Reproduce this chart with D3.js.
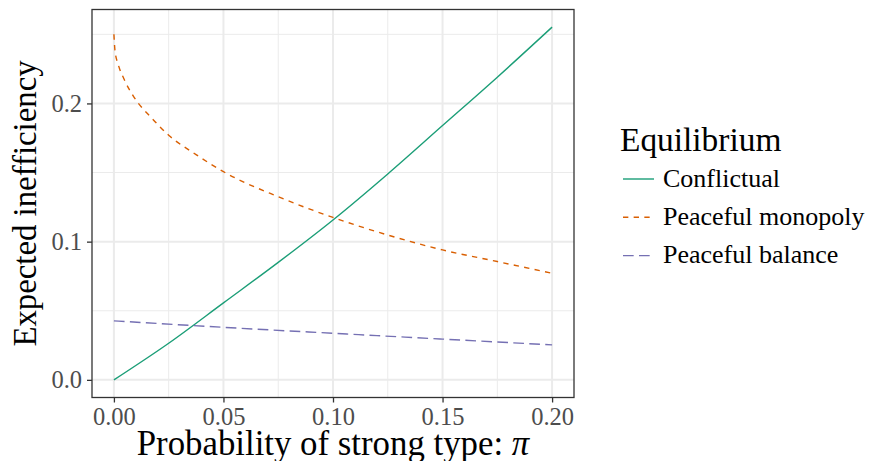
<!DOCTYPE html>
<html>
<head>
<meta charset="utf-8">
<script src="https://cdn.jsdelivr.net/npm/d3@7"></script>
<style>
  body { margin: 0; background: #fff; }
  svg text { font-family: "Liberation Serif", "DejaVu Serif", serif; }
</style>
</head>
<body>
<div id="vis-container"></div>
<script>
// width and height
var w = 871;
var h = 461;

// data
var seriesNames = ["Conflictual", "Peaceful monopoly", "Peaceful balance"];
var seriesColors = ["#1B9E77", "#D95F02", "#7570B3"];
var seriesDash = [null, "5.33,5.33", "10.67,5.33"];

var conflictualPi  = [0, 0.025, 0.05, 0.075, 0.1, 0.125, 0.15, 0.175, 0.2];
var conflictualVal = [0, 0.0265, 0.0557, 0.085, 0.1157, 0.149, 0.184, 0.219, 0.2552];

var monopolyPi  = [0, 0.0005, 0.002, 0.0045, 0.009, 0.0175, 0.025, 0.0375, 0.05, 0.075, 0.1, 0.125, 0.15, 0.175, 0.2];
var monopolyVal = [0.25, 0.238, 0.228, 0.218, 0.205, 0.189, 0.177, 0.163, 0.1506, 0.1325, 0.1175, 0.1048, 0.094, 0.0856, 0.0771];

var balancePi  = [0, 0.05, 0.1, 0.15, 0.2];
var balanceVal = [0.0427, 0.0380, 0.0337, 0.0295, 0.0253];

var xTicks = [0, 0.05, 0.1, 0.15, 0.2];
var xMinor = [0.025, 0.075, 0.125, 0.175];
var yTicks = [0, 0.1, 0.2];
var yMinor = [0.05, 0.15, 0.25];

var seriesPi = [conflictualPi, monopolyPi, balancePi];
var seriesVal = [conflictualVal, monopolyVal, balanceVal];

var series = seriesNames.map(function (name, i) {
    return {
        name: name,
        color: seriesColors[i],
        dash: seriesDash[i],
        points: seriesPi[i].map(function (p, j) { return [p, seriesVal[i][j]]; })
    };
});

// panel box
var panel = { left: 92, top: 9.5, right: 574, bottom: 397.5 };

// ggplot-like 5% expansion
var xExt = [0, 0.2];
var yExt = [0, d3.max(seriesVal, function (v) { return d3.max(v); })];
var xPad = (xExt[1] - xExt[0]) * 0.05;
var yPad = (yExt[1] - yExt[0]) * 0.05;

var xScale = d3.scaleLinear()
    .domain([xExt[0] - xPad, xExt[1] + xPad])
    .range([panel.left, panel.right]);

var yScale = d3.scaleLinear()
    .domain([yExt[0] - yPad, yExt[1] + yPad])
    .range([panel.bottom, panel.top]);

var svg = d3.select("#vis-container")
    .append("svg")
    .attr("width", w)
    .attr("height", h);

// grid
var grid = svg.append("g");
grid.selectAll(".xminor").data(xMinor).enter().append("line")
    .attr("x1", xScale).attr("x2", xScale)
    .attr("y1", panel.top).attr("y2", panel.bottom)
    .attr("stroke", "#EBEBEB").attr("stroke-width", 1);
grid.selectAll(".yminor").data(yMinor).enter().append("line")
    .attr("y1", yScale).attr("y2", yScale)
    .attr("x1", panel.left).attr("x2", panel.right)
    .attr("stroke", "#EBEBEB").attr("stroke-width", 1);
grid.selectAll(".xmajor").data(xTicks).enter().append("line")
    .attr("x1", xScale).attr("x2", xScale)
    .attr("y1", panel.top).attr("y2", panel.bottom)
    .attr("stroke", "#EBEBEB").attr("stroke-width", 2);
grid.selectAll(".ymajor").data(yTicks).enter().append("line")
    .attr("y1", yScale).attr("y2", yScale)
    .attr("x1", panel.left).attr("x2", panel.right)
    .attr("stroke", "#EBEBEB").attr("stroke-width", 2);

// lines
var line = d3.line()
    .x(function (d) { return xScale(d[0]); })
    .y(function (d) { return yScale(d[1]); })
    .curve(d3.curveMonotoneX);

svg.selectAll(".series")
    .data(series)
    .enter()
    .append("path")
    .attr("class", "series")
    .attr("d", function (d) { return line(d.points); })
    .attr("fill", "none")
    .attr("stroke", function (d) { return d.color; })
    .attr("stroke-width", 1.4)
    .attr("stroke-dasharray", function (d) { return d.dash; });

// panel border
svg.append("rect")
    .attr("x", panel.left).attr("y", panel.top)
    .attr("width", panel.right - panel.left)
    .attr("height", panel.bottom - panel.top)
    .attr("fill", "none")
    .attr("stroke", "#333333")
    .attr("stroke-width", 1.3);

// axes
var fmtX = d3.format(".2f");
var fmtY = d3.format(".1f");

var xAxis = d3.axisBottom(xScale).tickValues(xTicks).tickFormat(fmtX).tickSize(5).tickPadding(4);
var yAxis = d3.axisLeft(yScale).tickValues(yTicks).tickFormat(fmtY).tickSize(5).tickPadding(5);

var gx = svg.append("g")
    .attr("transform", "translate(0," + panel.bottom + ")")
    .call(xAxis);
var gy = svg.append("g")
    .attr("transform", "translate(" + panel.left + ",0)")
    .call(yAxis);

[gx, gy].forEach(function (g) {
    g.select(".domain").remove();
    g.selectAll(".tick line").attr("stroke", "#333333").attr("stroke-width", 1.3);
    g.selectAll(".tick text")
        .attr("fill", "#4D4D4D")
        .attr("font-family", "Liberation Serif")
        .style("font-size", "24.5px");
});
gx.selectAll(".tick text").attr("dy", "0.74em");
gy.selectAll(".tick text").attr("dy", "0.33em");

// axis titles
svg.append("text")
    .attr("x", (panel.left + panel.right) / 2)
    .attr("y", 455)
    .attr("text-anchor", "middle")
    .style("font-size", "34.8px")
    .html("Probability of strong type: <tspan font-style='italic'>π</tspan>");

svg.append("text")
    .attr("transform", "translate(36," + ((panel.top + panel.bottom) / 2) + ") rotate(-90)")
    .attr("text-anchor", "middle")
    .style("font-size", "32.8px")
    .text("Expected inefficiency");

// legend
var legend = svg.append("g").attr("transform", "translate(620,0)");
legend.append("text")
    .attr("x", 0)
    .attr("y", 150.5)
    .style("font-size", "33.4px")
    .text("Equilibrium");

var items = legend.selectAll(".legend")
    .data(series)
    .enter().append("g")
    .attr("class", "legend")
    .attr("transform", function (d, i) { return "translate(0," + (179 + i * 38.3) + ")"; });

items.append("line")
    .attr("x1", 3).attr("x2", 34)
    .attr("y1", 0).attr("y2", 0)
    .attr("stroke", function (d) { return d.color; })
    .attr("stroke-width", 1.4)
    .attr("stroke-dasharray", function (d) { return d.dash; });

items.append("text")
    .attr("x", 43)
    .attr("y", 7.5)
    .style("font-size", "26px")
    .text(function (d) { return d.name; });
</script>
</body>
</html>
